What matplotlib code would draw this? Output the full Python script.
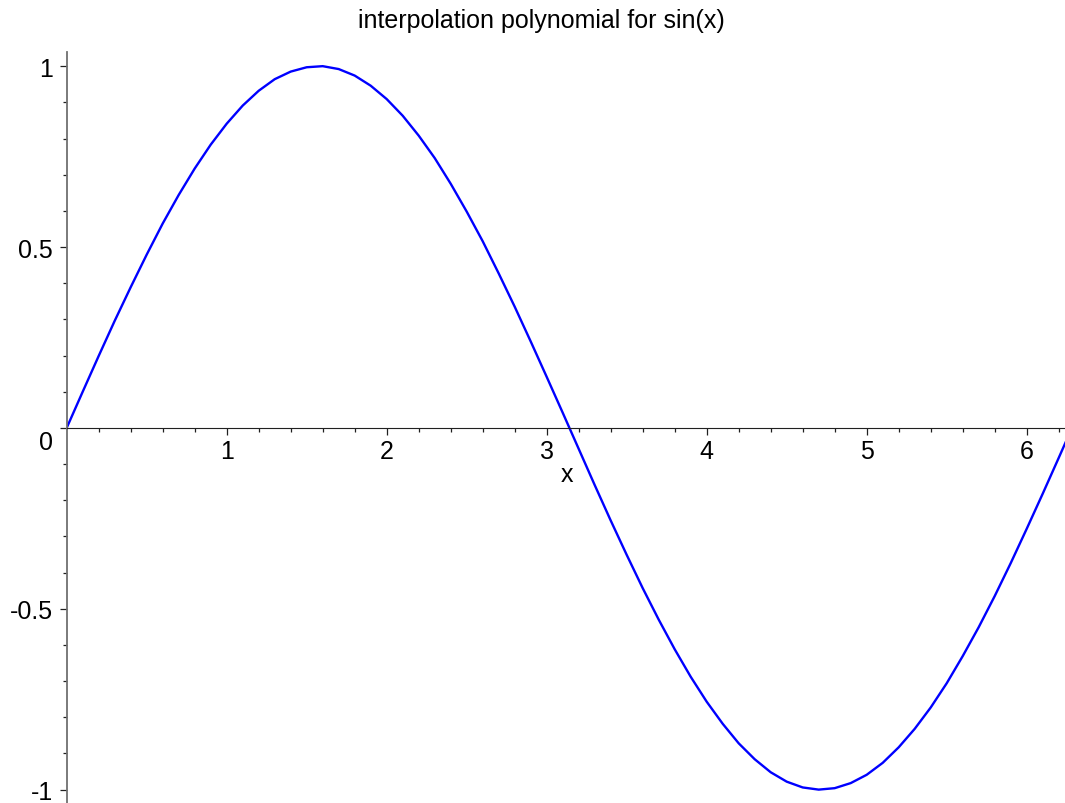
import matplotlib
matplotlib.use("Agg")
import matplotlib.pyplot as plt
import matplotlib.transforms as mtransforms
import numpy as np

plt.rcParams['font.family'] = ['Liberation Sans', 'DejaVu Sans']

# sampled curve of the interpolation polynomial
xs = [0.0, 0.1, 0.2, 0.3, 0.4, 0.5, 0.6, 0.7, 0.8, 0.9,
      1.0, 1.1, 1.2, 1.3, 1.4, 1.5, 1.6, 1.7, 1.8, 1.9,
      2.0, 2.1, 2.2, 2.3, 2.4, 2.5, 2.6, 2.7, 2.8, 2.9,
      3.0, 3.1, 3.2, 3.3, 3.4, 3.5, 3.6, 3.7, 3.8, 3.9,
      4.0, 4.1, 4.2, 4.3, 4.4, 4.5, 4.6, 4.7, 4.8, 4.9,
      5.0, 5.1, 5.2, 5.3, 5.4, 5.5, 5.6, 5.7, 5.8, 5.9,
      6.0, 6.1, 6.2, 6.28]
ys = [0.000, 0.100, 0.199, 0.296, 0.389, 0.479, 0.565, 0.644, 0.717, 0.783,
      0.841, 0.891, 0.932, 0.964, 0.985, 0.997, 1.000, 0.992, 0.974, 0.946,
      0.909, 0.863, 0.808, 0.746, 0.675, 0.598, 0.516, 0.427, 0.335, 0.239,
      0.141, 0.042, -0.058, -0.158, -0.256, -0.351, -0.443, -0.530, -0.612, -0.688,
      -0.757, -0.818, -0.872, -0.916, -0.952, -0.978, -0.994, -1.000, -0.996, -0.982,
      -0.959, -0.926, -0.883, -0.832, -0.773, -0.706, -0.631, -0.551, -0.465, -0.374,
      -0.279, -0.182, -0.083, -0.003]

xticks = [1, 2, 3, 4, 5, 6]
xticklabels = ['1', '2', '3', '4', '5', '6']
yticks = [-1, -0.5, 0, 0.5, 1]
yticklabels = ['-1', '-0.5', '0', '0.5', '1']

W, H = 1065, 804
fig = plt.figure(figsize=(W / 100, H / 100), dpi=100)
ax_left = 66.7 / W
ax_top = 52.7 / H
ax = fig.add_axes([ax_left, 0.0, 1.0 - ax_left, 1.0 - ax_top])

ax.plot(xs, ys, color=(0, 0, 1), lw=1.7, solid_capstyle='butt')

ax.set_xlim(0, (W - 66.7) / 160.0)
ax.set_ylim(-1.037, 1.04)

for s in ['top', 'right']:
    ax.spines[s].set_visible(False)
ax.spines['bottom'].set_position(('data', 0))
ax.spines['bottom'].set_color('#202020')
ax.spines['left'].set_color('#707070')
ax.spines['left'].set_linewidth(1.3)

ax.set_xticks(xticks)
ax.set_xticklabels(xticklabels)
ax.set_xticks(np.arange(0.2, 6.3, 0.2), minor=True)
ax.set_yticks(yticks)
ax.set_yticklabels(yticklabels)
ax.set_yticks(np.arange(-1.0, 1.01, 0.1), minor=True)

ax.tick_params(axis='x', which='major', direction='out', length=5, width=0.9,
               color='#202020', labelsize=18, pad=3)
ax.tick_params(axis='x', which='minor', direction='out', length=3, width=0.9,
               color='#202020')
ax.tick_params(axis='y', which='major', direction='out', length=5, width=0.9,
               color='#202020', labelsize=18, pad=5)
ax.tick_params(axis='y', which='minor', direction='out', length=3, width=0.9,
               color='#202020')

# drop the "0" label a little below the x axis
for lbl in ax.get_yticklabels():
    if lbl.get_text() == '0':
        lbl.set_transform(lbl.get_transform() +
                          mtransforms.ScaledTranslation(0, -12 / 100, fig.dpi_scale_trans))

fig.text(567 / W, 1 - 475 / H, 'x', fontsize=18, ha='center', va='center')
fig.text(541 / W, 1 - 21 / H, 'interpolation polynomial for sin(x)',
         fontsize=18, ha='center', va='center')

fig.savefig('out.png', dpi=100)
